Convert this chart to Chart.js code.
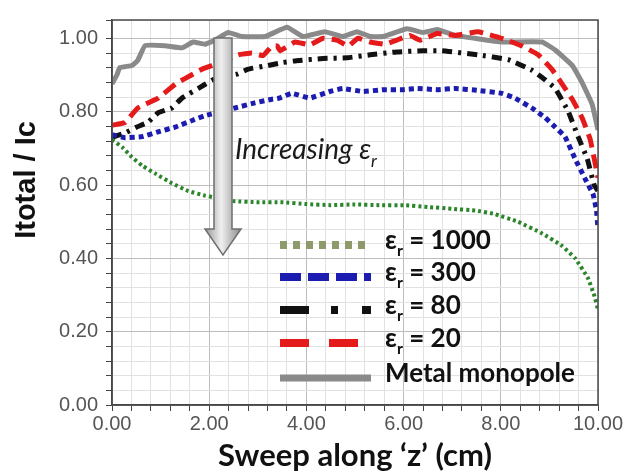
<!DOCTYPE html>
<html>
<head>
<meta charset="utf-8">
<script src="https://cdn.jsdelivr.net/npm/chart.js@4/dist/chart.umd.min.js"></script>
<style>
  html, body { margin: 0; padding: 0; background: #fff; }
</style>
</head>
<body>
<canvas id="chart" width="626" height="475"></canvas>
<script>
// ================================
// DATA
// ================================
const xTicks = { min: 0, max: 10, step: 0.4, major: 2 };
const yTicks = { min: 0, max: 1.05, step: 0.04, major: 0.2 };

const labels = ["εr = 1000", "εr = 300", "εr = 80", "εr = 20", "Metal monopole"];

// [z (cm), Itotal / Ic]
const er1000 = [
  [0, 0.724], [0.21, 0.703], [0.41, 0.676], [0.62, 0.653], [0.88, 0.632],
  [1.23, 0.605], [1.56, 0.584], [1.91, 0.571], [2.12, 0.566], [2.5, 0.556],
  [3, 0.553], [3.5, 0.553], [4, 0.548], [4.5, 0.545], [5, 0.547], [5.5, 0.545],
  [6, 0.545], [6.5, 0.54], [7, 0.535], [7.5, 0.53], [7.87, 0.521], [8.35, 0.5],
  [8.85, 0.468], [9.26, 0.434], [9.53, 0.4], [9.79, 0.347], [9.92, 0.3], [10, 0.26]
];

const er300 = [
  [0, 0.737], [0.27, 0.729], [0.62, 0.732], [0.95, 0.745], [1.3, 0.758],
  [1.65, 0.776], [1.91, 0.789], [2.53, 0.81], [2.94, 0.824], [3.29, 0.834],
  [3.44, 0.837], [3.7, 0.85], [4.07, 0.837], [4.48, 0.855], [4.75, 0.863],
  [5.17, 0.855], [5.58, 0.86], [5.99, 0.86], [6.28, 0.863], [6.69, 0.86],
  [7.06, 0.863], [7.53, 0.858], [8.02, 0.85], [8.29, 0.837], [8.64, 0.81],
  [8.91, 0.784], [9.12, 0.758], [9.32, 0.732], [9.53, 0.671], [9.73, 0.618],
  [9.9, 0.574], [9.97, 0.53], [10, 0.48]
];

const er80 = [
  [0, 0.73], [0.27, 0.742], [0.51, 0.758], [0.74, 0.771], [0.95, 0.797],
  [1.23, 0.81], [1.44, 0.837], [1.91, 0.874], [2.12, 0.89], [2.59, 0.903],
  [2.8, 0.916], [3.21, 0.926], [3.51, 0.934], [3.79, 0.939], [4.34, 0.945],
  [4.84, 0.947], [5.31, 0.955], [5.86, 0.963], [6.4, 0.966], [6.79, 0.966],
  [7.53, 0.955], [8.15, 0.942], [8.64, 0.913], [8.91, 0.887], [9.12, 0.863],
  [9.38, 0.803], [9.59, 0.732], [9.78, 0.671], [9.92, 0.6], [10, 0.584]
];

const er20 = [
  [0, 0.763], [0.27, 0.771], [0.53, 0.81], [0.95, 0.837], [1.34, 0.879],
  [1.5, 0.89], [1.85, 0.916], [2.06, 0.926], [2.6, 0.955], [2.88, 0.96],
  [3.11, 0.953], [3.29, 0.979], [3.4, 0.979], [3.46, 0.966], [3.77, 0.99],
  [4.07, 0.982], [4.34, 1.0], [4.63, 0.995], [4.86, 0.979], [5.06, 1.0],
  [5.31, 0.99], [5.62, 0.984], [5.86, 0.995], [6.13, 1.008], [6.34, 0.995],
  [6.69, 1.013], [7.06, 1.008], [7.53, 1.018], [8.02, 1.0], [8.44, 0.979],
  [8.77, 0.955], [9.05, 0.916], [9.26, 0.876], [9.47, 0.834], [9.67, 0.784],
  [9.84, 0.724], [10, 0.62]
];

const metal = [
  [0, 0.876], [0.1, 0.9], [0.16, 0.92], [0.41, 0.926], [0.53, 0.94],
  [0.68, 0.98], [1.09, 0.98], [1.44, 0.974], [1.67, 0.99], [1.91, 0.984],
  [2.12, 0.995], [2.39, 1.016], [2.67, 1.005], [3.15, 1.005], [3.6, 1.03],
  [3.93, 1.005], [4.38, 1.018], [4.75, 1.005], [5.04, 1.018], [5.31, 1.005],
  [5.58, 1.005], [6.07, 1.026], [6.4, 1.016], [6.69, 1.024], [7.06, 1.008],
  [7.47, 1.0], [8.02, 0.99], [8.85, 0.99], [9.12, 0.968], [9.47, 0.926],
  [9.67, 0.88], [9.88, 0.82], [10, 0.75]
];


// ================================
// HELPERS
// ================================
const toPts = arr => arr.map(([x, y]) => ({ x, y }));
const isMajor = (v, step) => Math.abs(v / step - Math.round(v / step)) < 1e-6;

// draws "εr ..." with the r as a subscript
function drawEpsText(ctx, text, x, y, size, style) {
  ctx.textBaseline = "alphabetic";
  ctx.textAlign = "left";
  const font = s => `${style} ${s}px Lato, "DejaVu Sans", sans-serif`;
  ctx.font = font(size);
  if (!text.startsWith("εr")) {
    ctx.fillText(text, x, y);
    return x + ctx.measureText(text).width;
  }
  ctx.fillText("ε", x, y);
  x += ctx.measureText("ε").width;
  ctx.font = font(Math.round(size * 0.62));
  ctx.fillText("r", x, y + size * 0.28);
  x += ctx.measureText("r").width;
  ctx.font = font(size);
  if (text.length > 2) ctx.fillText(text.slice(2), x, y);
  return x + ctx.measureText(text.slice(2)).width;
}


// ================================
// OVERLAY: arrow, note, legend, frame, y title
// ================================
const overlay = {
  id: "overlay",
  afterDatasetsDraw(chart) {
    const ctx = chart.ctx;
    const area = chart.chartArea;

    // -------------------------
    // Down arrow
    // -------------------------
    ctx.save();
    const grad = ctx.createLinearGradient(205, 0, 241, 0);
    grad.addColorStop(0, "#969696");
    grad.addColorStop(0.45, "#f0f0f0");
    grad.addColorStop(1, "#8a8a8a");
    ctx.fillStyle = grad;
    ctx.strokeStyle = "#6e6e6e";
    ctx.lineWidth = 1.5;
    ctx.beginPath();
    ctx.moveTo(214, 38);
    ctx.lineTo(232, 38);
    ctx.lineTo(232, 229);
    ctx.lineTo(241, 229);
    ctx.lineTo(223, 255);
    ctx.lineTo(205, 229);
    ctx.lineTo(214, 229);
    ctx.closePath();
    ctx.fill();
    ctx.stroke();
    ctx.restore();

    // -------------------------
    // "Increasing εr"
    // -------------------------
    ctx.save();
    ctx.fillStyle = "#1a1a1a";
    const nx = drawEpsText(ctx, "Increasing ", 235, 159, 28, "italic 400");
    drawEpsText(ctx, "εr", nx, 159, 28, "italic 400");
    ctx.restore();

    // -------------------------
    // Legend
    // -------------------------
    const rows = [245, 277, 310, 343, 378];
    chart.data.datasets.forEach((ds, i) => {
      const y = rows[i];
      ctx.save();
      ctx.strokeStyle = ds.legendColor || ds.borderColor;
      ctx.lineWidth = ds.legendWidth;
      ctx.lineCap = "butt";
      ctx.setLineDash(ds.legendDash);
      ctx.beginPath();
      ctx.moveTo(280, y);
      ctx.lineTo(371, y);
      ctx.stroke();
      ctx.restore();

      ctx.save();
      ctx.fillStyle = "#111";
      drawEpsText(ctx, ds.label, 385, y + 4, 26, "bold");
      ctx.restore();
    });

    // -------------------------
    // Frame round the plot
    // -------------------------
    ctx.save();
    ctx.strokeStyle = "#4a4a4a";
    ctx.lineWidth = 1.5;
    ctx.strokeRect(area.left, area.top, area.right - area.left, area.bottom - area.top);
    ctx.restore();
  },
  afterDraw(chart) {
    const ctx = chart.ctx;
    ctx.save();
    ctx.translate(27, 180);
    ctx.rotate(-Math.PI / 2);
    ctx.font = 'bold 29px "Liberation Sans", Arial, sans-serif';
    ctx.fillStyle = "#111";
    ctx.textAlign = "center";
    ctx.textBaseline = "middle";
    ctx.fillText("Itotal / Ic", 0, 0);
    ctx.restore();
  }
};


// ================================
// BUILD CHART
// ================================
const tickFont = { family: '"Liberation Sans", Arial, sans-serif', size: 20 };

new Chart(document.getElementById("chart"), {
  type: "line",
  data: {
    datasets: [
      {
        label: labels[0],
        data: toPts(er1000),
        borderColor: "#2b862b",
        borderWidth: 4,
        borderDash: [3, 3],
        legendColor: "#8e9a6a",
        legendWidth: 8,
        legendDash: [7, 6]
      },
      {
        label: labels[1],
        data: toPts(er300),
        borderColor: "#1c1cb0",
        borderWidth: 5,
        borderDash: [5, 4],
        legendWidth: 8,
        legendDash: [21, 7]
      },
      {
        label: labels[2],
        data: toPts(er80),
        borderColor: "#111111",
        borderWidth: 5,
        borderDash: [10, 6, 3, 6],
        legendWidth: 8,
        legendDash: [29, 22, 7, 24]
      },
      {
        label: labels[3],
        data: toPts(er20),
        borderColor: "#e51a1a",
        borderWidth: 5,
        borderDash: [14, 7],
        legendWidth: 8,
        legendDash: [29, 20]
      },
      {
        label: labels[4],
        data: toPts(metal),
        borderColor: "#8a8a8a",
        borderWidth: 5,
        borderDash: [],
        legendWidth: 7,
        legendDash: []
      }
    ]
  },
  options: {
    responsive: false,
    animation: false,
    layout: { padding: { left: 0, right: 28, top: 6, bottom: 0 } },
    elements: {
      point: { radius: 0, hoverRadius: 0 },
      line: { tension: 0.1, borderCapStyle: "butt", borderJoinStyle: "round", fill: false }
    },
    plugins: {
      legend: { display: false },
      tooltip: { enabled: false }
    },
    scales: {
      x: {
        type: "linear",
        min: xTicks.min,
        max: xTicks.max,
        afterFit: s => { s.height = 70; },
        ticks: {
          stepSize: xTicks.step,
          autoSkip: false,
          maxRotation: 0,
          padding: 1,
          color: "#555",
          font: tickFont,
          callback: v => isMajor(v, xTicks.major) ? v.toFixed(2) : ""
        },
        grid: {
          color: c => isMajor(c.tick.value, xTicks.major) ? "#bcbcbc" : "#e2e2e2",
          tickColor: "#444",
          tickLength: 6
        },
        border: { color: "#444", width: 1.5 },
        title: {
          display: true,
          text: "Sweep along ‘z’ (cm)",
          color: "#111",
          font: { family: 'Lato, "DejaVu Sans", sans-serif', size: 31, weight: "bold", lineHeight: 1.2 },
          padding: { top: 0, bottom: 0 }
        }
      },
      y: {
        type: "linear",
        min: yTicks.min,
        max: yTicks.max,
        afterFit: s => { s.width = 112; },
        ticks: {
          stepSize: yTicks.step,
          autoSkip: false,
          padding: 8,
          color: "#555",
          font: tickFont,
          callback: v => isMajor(v, yTicks.major) ? v.toFixed(2) : ""
        },
        grid: {
          color: c => isMajor(c.tick.value, yTicks.major) ? "#bcbcbc" : "#e2e2e2",
          tickColor: "#444",
          tickLength: 6
        },
        border: { color: "#444", width: 1.5 }
      }
    }
  },
  plugins: [overlay]
});
</script>
</body>
</html>
